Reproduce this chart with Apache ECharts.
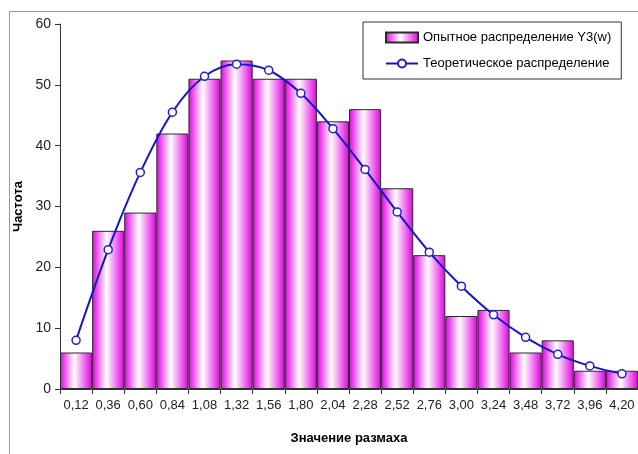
<!DOCTYPE html>
<html>
<head>
<meta charset="utf-8">
<script src="https://cdn.jsdelivr.net/npm/echarts@6/dist/echarts.min.js"></script>
<style>
html,body{margin:0;padding:0;background:#fff;}
#c{width:638px;height:454px;}
</style>
</head>
<body>
<div id="c"></div>
<script>
var categories = ['0,12','0,36','0,60','0,84','1,08','1,32','1,56','1,80','2,04','2,28','2,52','2,76','3,00','3,24','3,48','3,72','3,96','4,20'];
var observed = [6, 26, 29, 42, 51, 54, 51, 51, 44, 46, 33, 22, 12, 13, 6, 8, 3, 3];
var theoretical = [8, 22.9, 35.6, 45.5, 51.4, 53.4, 52.4, 48.6, 42.8, 36.1, 29.1, 22.5, 16.9, 12.2, 8.5, 5.7, 3.8, 2.5];
var yTicks = {min: 0, max: 60, interval: 10};
var seriesNames = ['Опытное распределение Y3(w)', 'Теоретическое распределение'];
var axisNames = {x: 'Значение размаха', y: 'Частота'};

var font = "'Liberation Sans Narrow', 'Arial Narrow', 'Liberation Sans', sans-serif";
var chart = echarts.init(document.getElementById('c'), null, {renderer: 'canvas'});
var grad = new echarts.graphic.LinearGradient(0, 0, 1, 0, [
  {offset: 0, color: '#E000E0'},
  {offset: 0.45, color: '#FFFFFF'},
  {offset: 1, color: '#E000E0'}
]);
chart.setOption({
  backgroundColor: '#fff',
  animation: false,
  graphic: [{
    type: 'rect', left: 7, top: 9, silent: true,
    shape: {x: 0, y: 0, width: 660, height: 480},
    style: {fill: 'none', stroke: '#9a9a9a', lineWidth: 1}
  }],
  grid: {left: 60, right: -5, top: 24, bottom: 65, containLabel: false},
  legend: {
    orient: 'vertical', left: 363, top: 22,
    padding: [9, 10, 9, 22], itemGap: 13,
    itemWidth: 32, itemHeight: 10,
    borderColor: '#333', borderWidth: 1, backgroundColor: '#fff',
    textStyle: {fontFamily: font, fontSize: 13, color: '#000'},
    data: [{name: seriesNames[0], icon: 'rect'}, {name: seriesNames[1]}]
  },
  xAxis: {
    type: 'category', data: categories,
    name: axisNames.x, nameLocation: 'middle', nameGap: 43,
    nameTextStyle: {fontFamily: font, fontSize: 13, fontWeight: 'bold', color: '#000'},
    axisLine: {lineStyle: {color: '#333', width: 1}},
    axisTick: {show: true, alignWithLabel: false, length: 5, lineStyle: {color: '#333'}},
    axisLabel: {fontFamily: font, fontSize: 13, color: '#222', margin: 10, interval: 0}
  },
  yAxis: {
    type: 'value', min: yTicks.min, max: yTicks.max, interval: yTicks.interval,
    name: axisNames.y, nameLocation: 'middle', nameGap: 34, nameRotate: 90,
    nameTextStyle: {fontFamily: font, fontSize: 13, fontWeight: 'bold', color: '#000'},
    axisLine: {show: true, lineStyle: {color: '#333', width: 1}},
    axisTick: {show: true, length: 5, lineStyle: {color: '#333'}},
    splitLine: {show: false},
    axisLabel: {fontFamily: font, fontSize: 14, color: '#222', margin: 9}
  },
  series: [{
    name: seriesNames[0], type: 'bar', data: observed,
    barCategoryGap: 0,
    itemStyle: {color: grad, borderColor: '#2a2a2a', borderWidth: 1}
  }, {
    name: seriesNames[1], type: 'line', data: theoretical,
    smooth: 0.35,
    symbol: 'circle', symbolSize: 8,
    lineStyle: {color: '#1515C8', width: 2},
    itemStyle: {color: '#fff', borderColor: '#2020D0', borderWidth: 1.5},
    z: 5
  }]
});
</script>
</body>
</html>
